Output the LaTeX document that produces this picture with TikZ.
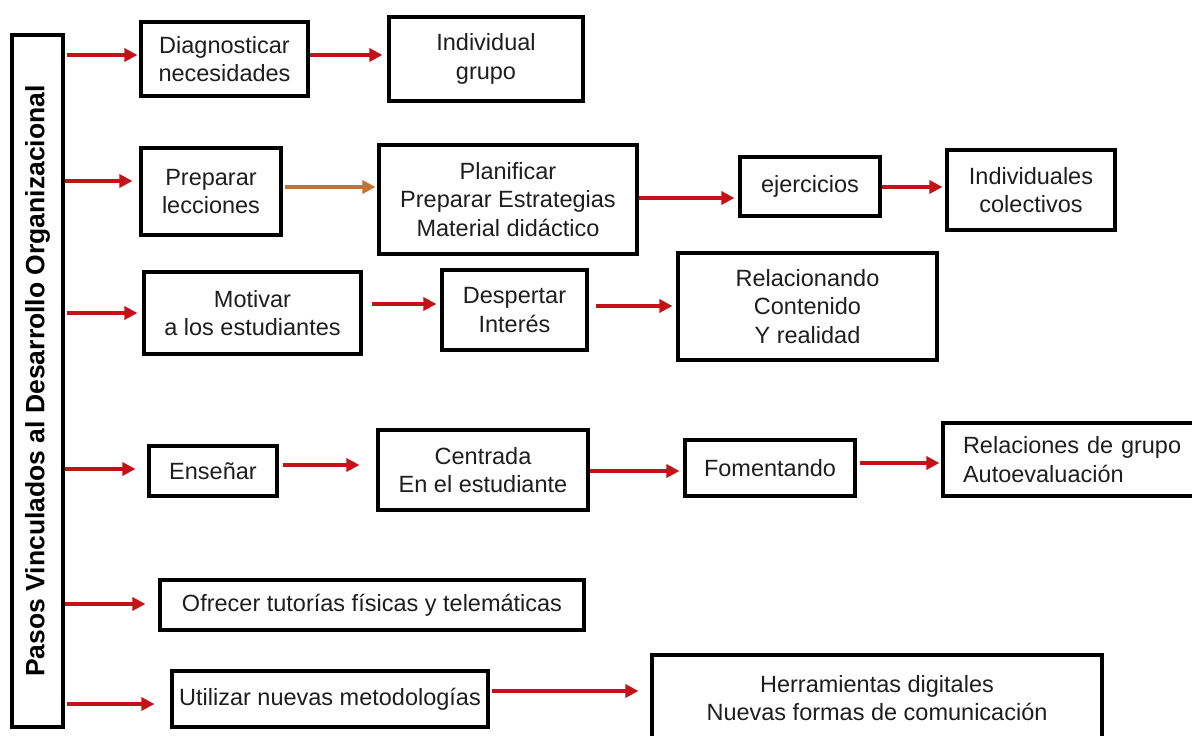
\documentclass[tikz,border=0pt]{standalone}
\usepackage{fontspec}
\setmainfont{Liberation Sans}
\usetikzlibrary{arrows.meta}
\definecolor{arrred}{RGB}{196,18,24}
\definecolor{arrorange}{RGB}{198,112,52}
\definecolor{txt}{RGB}{30,30,30}
\begin{document}
\begin{tikzpicture}[x=1pt,y=-1pt,
  box/.style={draw=black, line width=3.1pt, fill=white, align=center, inner sep=0pt,
    text=txt, font=\fontsize{23.5}{28.5}\selectfont},
  conn/.style={draw=arrred, line width=3.2pt, -{Triangle[length=13pt,width=13pt]}},
  connor/.style={conn, draw=arrorange}]
\clip (0,0) rectangle (1192,736);
\fill[white] (0,0) rectangle (1192,736);

% left vertical box
\node[box, minimum width=51, minimum height=692] (left) at (37.5,381) {};
\node[rotate=90, text=black, font=\bfseries\fontsize{26.5}{30}\selectfont] (lefttext) at (left.center) {Pasos Vinculados al Desarrollo Organizacional};

% row 1
\node[box, minimum width=167, minimum height=74] (diag) at (224.5,59) {Diagnosticar\\necesidades};
\node[box, minimum width=194, minimum height=84] (indiv) at (486,59) {Individual\\grupo};
% row 2
\node[box, minimum width=140, minimum height=87] (prep) at (211,191.5) {Preparar\\lecciones};
\node[box, minimum width=258, minimum height=109] (plan) at (508,199.5) {Planificar\\Preparar Estrategias\\Material did\'actico};
\node[box, minimum width=140, minimum height=59] (ejer) at (810,186.5) {ejercicios};
\node[box, minimum width=168, minimum height=80] (indcol) at (1031,190) {Individuales\\colectivos};
% row 3
\node[box, minimum width=217, minimum height=82] (motiv) at (252.5,313) {Motivar\\a los estudiantes};
\node[box, minimum width=145, minimum height=80] (desp) at (514.5,310) {Despertar\\Inter\'es};
\node[box, minimum width=259, minimum height=107] (relac) at (807.5,306.5) {Relacionando\\Contenido\\Y realidad};
% row 4
\node[box, minimum width=128, minimum height=50] (ense) at (213,471) {Enseñar};
\node[box, minimum width=210, minimum height=80] (centr) at (483,470) {Centrada\\En el estudiante};
\node[box, minimum width=170, minimum height=56] (foment) at (770,468) {Fomentando};
\node[box, minimum width=267, minimum height=73, align=left, text width=227, inner xsep=20pt] (relg) at (1076.5,459.5) {Relaciones de grupo\\Autoevaluaci\'on};
% row 5
\node[box, minimum width=424, minimum height=50] (ofrec) at (372,605) {Ofrecer tutor\'{\i}as f\'{\i}sicas y telem\'aticas};
% row 6
\node[box, minimum width=316, minimum height=56] (util) at (330,699) {Utilizar nuevas metodolog\'{\i}as};
\node[box, minimum width=450, minimum height=86] (herr) at (877,698) {Herramientas digitales\\Nuevas formas de comunicaci\'on};

% arrows from left box
\draw[conn] ([xshift=2]left.east |- 0,55) -- ([xshift=-2]diag.west |- 0,55);
\draw[conn] (left.east |- 0,181) -- ([xshift=-7]prep.west |- 0,181);
\draw[conn] ([xshift=2]left.east |- 0,313) -- ([xshift=-5]motiv.west |- 0,313);
\draw[conn] (left.east |- 0,469) -- ([xshift=-12]ense.west |- 0,469);
\draw[conn] (left.east |- 0,604) -- ([xshift=-13]ofrec.west |- 0,604);
\draw[conn] ([xshift=2]left.east |- 0,704) -- ([xshift=-16]util.west |- 0,704);

% inner arrows
\draw[conn] (diag.east |- 0,55) -- ([xshift=-5]indiv.west |- 0,55);
\draw[connor] ([xshift=2]prep.east |- 0,187) -- ([xshift=-2]plan.west |- 0,187);
\draw[conn] (plan.east |- 0,198) -- ([xshift=-4]ejer.west |- 0,198);
\draw[conn] (ejer.east |- 0,187) -- ([xshift=-3]indcol.west |- 0,187);
\draw[conn] ([xshift=9]motiv.east |- 0,304) -- ([xshift=-4]desp.west |- 0,304);
\draw[conn] ([xshift=7]desp.east |- 0,306) -- ([xshift=-4]relac.west |- 0,306);
\draw[conn] ([xshift=4]ense.east |- 0,465) -- ([xshift=-17]centr.west |- 0,465);
\draw[conn] (centr.east |- 0,471) -- ([xshift=-4]foment.west |- 0,471);
\draw[conn] ([xshift=3]foment.east |- 0,463) -- ([xshift=-2]relg.west |- 0,463);
\draw[conn] ([xshift=2]util.east |- 0,691) -- ([xshift=-12]herr.west |- 0,691);
\end{tikzpicture}
\end{document}
